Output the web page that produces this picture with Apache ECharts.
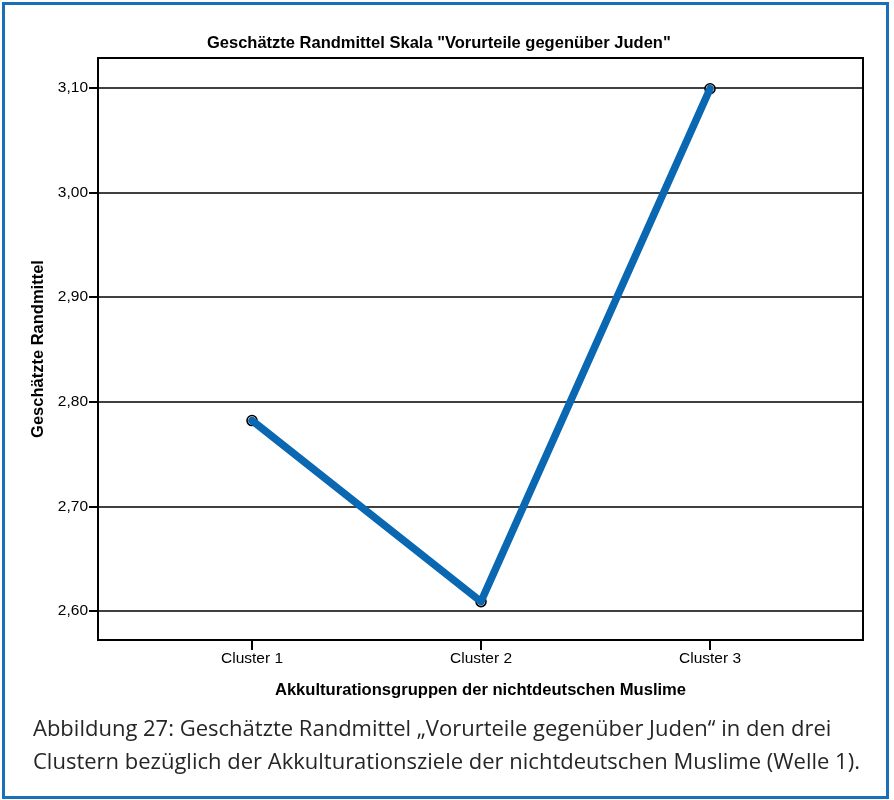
<!DOCTYPE html>
<html>
<head>
<meta charset="utf-8">
<script src="https://cdn.jsdelivr.net/npm/echarts@6/dist/echarts.min.js"></script>
<style>
html,body{margin:0;padding:0;background:#fff;}
#c{width:894px;height:800px;}
</style>
</head>
<body>
<div id="c"></div>
<script>
const categories = ['Cluster 1', 'Cluster 2', 'Cluster 3'];
const categoryPositions = [1, 2, 3];
const meanValues = [2.782, 2.609, 3.099];
const yTicks = [2.6, 2.7, 2.8, 2.9, 3.0, 3.1];
const titleText = 'Geschätzte Randmittel Skala "Vorurteile gegenüber Juden"';
const yAxisTitle = 'Geschätzte Randmittel';
const xAxisTitle = 'Akkulturationsgruppen der nichtdeutschen Muslime';
const captionLines = [
  'Abbildung 27: Geschätzte Randmittel „Vorurteile gegenüber Juden“ in den drei',
  'Clustern bezüglich der Akkulturationsziele der nichtdeutschen Muslime (Welle 1).'
];

const chart = echarts.init(document.getElementById('c'), null, {renderer: 'canvas'});
const seriesData = categoryPositions.map((p, i) => [p, meanValues[i]]);

chart.setOption({
  animation: false,
  backgroundColor: '#ffffff',
  title: {
    text: titleText,
    left: 202,
    top: 30,
    textStyle: {fontFamily: 'Liberation Sans', fontWeight: 'bold', fontSize: 16.5, color: '#000'}
  },
  grid: {
    left: 98, top: 58, right: 31, bottom: 160,
    show: true, borderColor: '#000', borderWidth: 2, backgroundColor: 'transparent'
  },
  xAxis: {
    type: 'value',
    min: 0.3275,
    max: 3.668,
    name: xAxisTitle,
    nameLocation: 'middle',
    nameGap: 42,
    nameTextStyle: {fontFamily: 'Liberation Sans', fontWeight: 'bold', fontSize: 16.6, color: '#000'},
    axisLine: {show: true, onZero: false, lineStyle: {color: '#000', width: 2}},
    axisTick: {show: true, customValues: categoryPositions, length: 10, lineStyle: {color: '#000', width: 2}},
    axisLabel: {
      customValues: categoryPositions,
      formatter: v => categories[Math.round(v) - 1],
      fontFamily: 'Liberation Sans', fontSize: 15.5, color: '#000', margin: 11
    },
    splitLine: {show: false}
  },
  yAxis: {
    type: 'value',
    min: 2.5723,
    max: 3.1284,
    name: yAxisTitle,
    nameLocation: 'middle',
    nameGap: 50,
    nameTextStyle: {fontFamily: 'Liberation Sans', fontWeight: 'bold', fontSize: 16.5, color: '#000'},
    axisLine: {show: true, lineStyle: {color: '#000', width: 2}},
    axisTick: {show: true, customValues: yTicks, length: 9, lineStyle: {color: '#000', width: 2}},
    axisLabel: {
      customValues: yTicks,
      formatter: v => v.toFixed(2).replace('.', ','),
      fontFamily: 'Liberation Sans', fontSize: 15.5, color: '#000', margin: 10
    },
    splitLine: {show: true, lineStyle: {color: '#000', width: 1.6}}
  },
  series: [
    {
      type: 'scatter',
      data: seriesData,
      symbol: 'circle',
      symbolSize: 10,
      itemStyle: {color: '#ffffff', borderColor: '#000', borderWidth: 1.6, opacity: 1},
      z: 2
    },
    {
      type: 'line',
      data: seriesData,
      showSymbol: false,
      symbol: 'none',
      lineStyle: {color: '#0a67b2', width: 7.5, cap: 'round', join: 'round'},
      z: 3
    }
  ],
  graphic: [
    {
      type: 'rect',
      shape: {x: 3.5, y: 3.5, width: 884, height: 794},
      style: {fill: 'none', stroke: '#1a6fb8', lineWidth: 3},
      silent: true
    },
    {
      type: 'text', x: 33, y: 730,
      style: {text: captionLines[0], font: '22px "Open Sans"', fill: '#262626', verticalAlign: 'middle'}
    },
    {
      type: 'text', x: 33, y: 763,
      style: {text: captionLines[1], font: '22px "Open Sans"', fill: '#262626', verticalAlign: 'middle'}
    }
  ]
});
</script>
</body>
</html>
